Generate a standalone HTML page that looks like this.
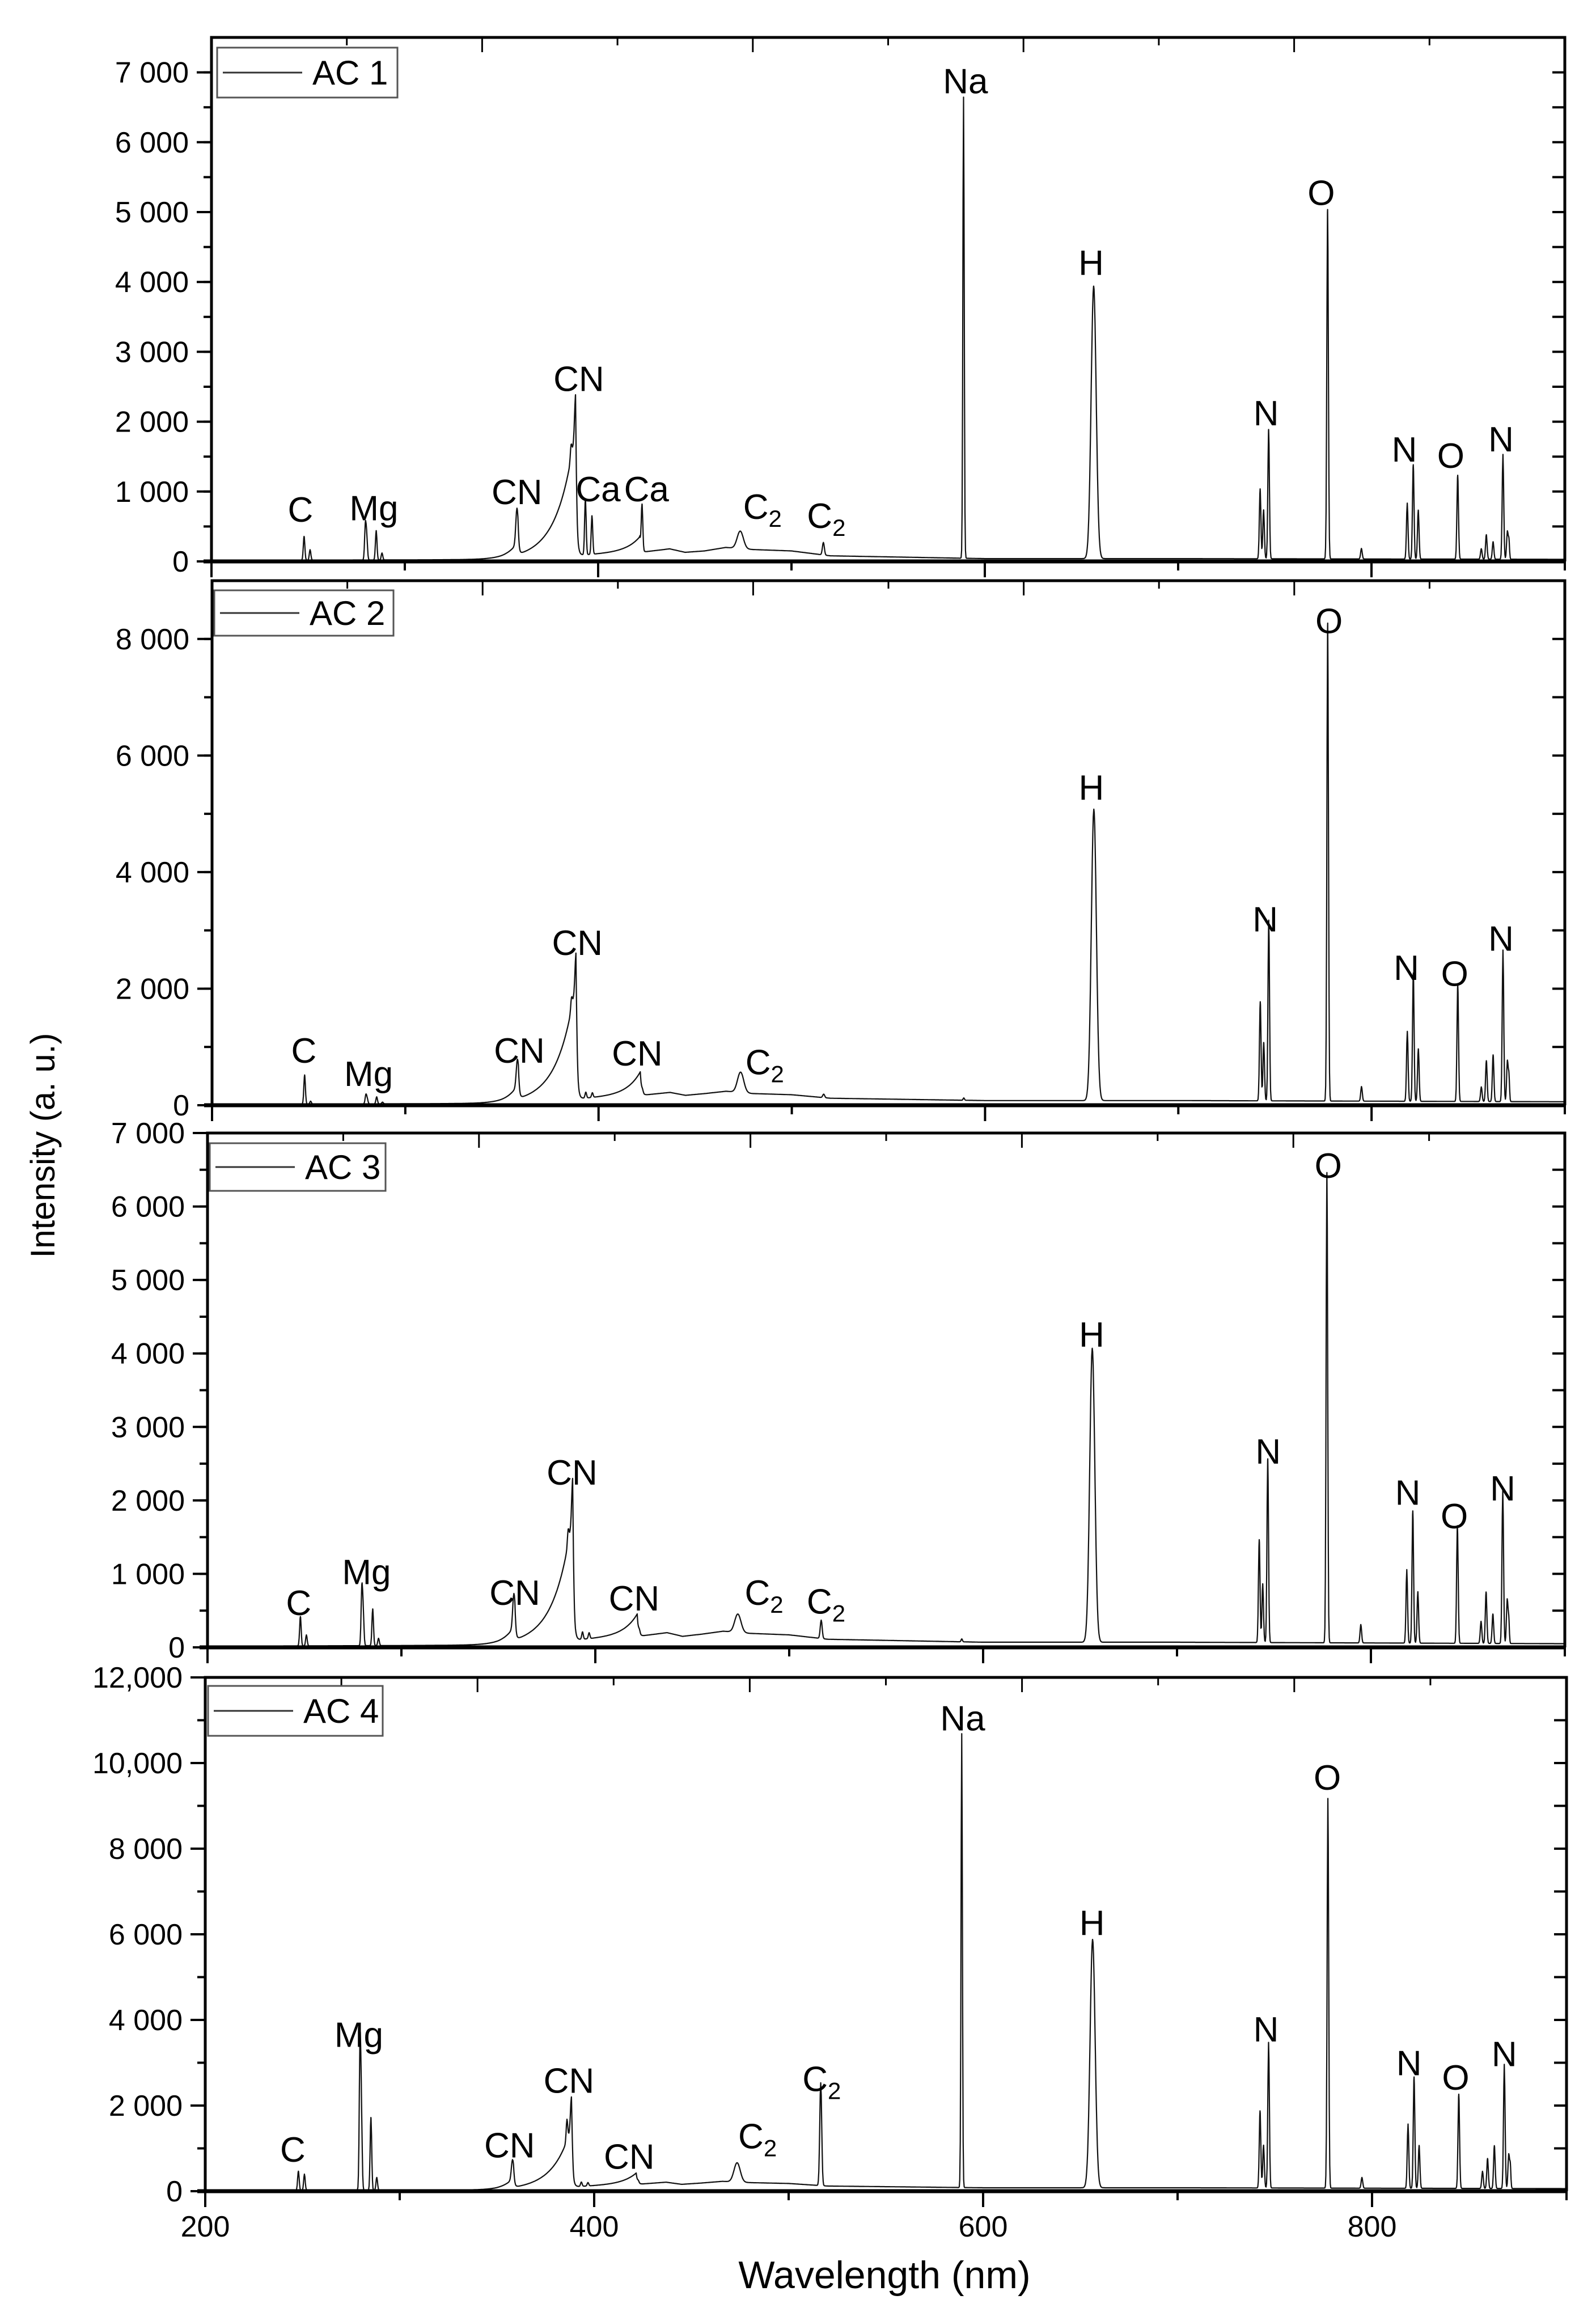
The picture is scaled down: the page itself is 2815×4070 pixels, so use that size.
<!DOCTYPE html>
<html><head><meta charset="utf-8"><style>
html,body{margin:0;padding:0;background:#fff;}
svg{display:block;}
text{font-family:"Liberation Sans",Arial,sans-serif;fill:#000;}
</style></head>
<body>
<svg id="chart" xmlns="http://www.w3.org/2000/svg" width="2815" height="4070" viewBox="0 0 2815 4070">
<rect x="0" y="0" width="2815" height="4070" fill="#fff"/>
<text x="0" y="0" font-size="60" text-anchor="middle" transform="translate(96,2020) rotate(-90)">Intensity (a. u.)</text>
<text x="1560" y="4035" font-size="68" text-anchor="middle">Wavelength (nm)</text>
</svg>
<script>
// ---- data ----
const panelNames = ["AC 1", "AC 2", "AC 3", "AC 4"];
const lineWl =    [247.9, 251.0, 279.6, 280.3, 285.2, 288.2, 358.0, 386.0, 388.3, 393.4, 396.8, 422.7, 473.5, 516.5, 589.0, 656.3, 742.4, 744.2, 746.8, 777.3, 794.8, 818.5, 821.6, 824.2, 844.6, 856.8, 859.4, 862.9, 868.0, 870.3, 871.1];
const lineWidth = [0.4, 0.4, 0.4, 0.4, 0.4, 0.4, 0.6, 0.4, 0.5, 0.4, 0.4, 0.4, 1.6, 0.5, 0.35, 1.3, 0.4, 0.4, 0.4, 0.4, 0.4, 0.4, 0.4, 0.4, 0.4, 0.4, 0.4, 0.4, 0.4, 0.4, 0.3];
const ac1Heights = [340, 150, 480, 300, 420, 100, 500, 200, 500, 800, 550, 650, 250, 180, 6600, 3900, 1000, 700, 1850, 5000, 150, 800, 1350, 700, 1200, 150, 350, 250, 1500, 400, 250];
const ac2Heights = [500, 50, 150, 80, 120, 30, 450, 200, 500, 100, 80, 50, 350, 60, 40, 5000, 1700, 1000, 3100, 8200, 250, 1200, 2200, 900, 2000, 250, 700, 800, 2600, 700, 400];
const ac3Heights = [400, 150, 750, 400, 500, 100, 450, 200, 500, 100, 80, 50, 250, 250, 40, 4000, 1400, 800, 2500, 6400, 250, 1000, 1800, 700, 1600, 300, 700, 400, 2100, 600, 300];
const ac4Heights = [450, 380, 3300, 1600, 1700, 300, 450, 500, 700, 100, 80, 50, 450, 2400, 10600, 5800, 1800, 1000, 3400, 9100, 250, 1500, 2600, 1000, 2200, 400, 700, 1000, 2900, 800, 500];
// molecular bands: head wavelength, rise length (nm)
const bandHeadWl = [358.5, 388.3, 421.6];
const bandRise =   [5, 9, 7];
const ac1Bands = [180, 1800, 220];
const ac2Bands = [250, 2000, 400];
const ac3Bands = [200, 1700, 300];
const ac4Bands = [220, 1400, 260];
// continuum baseline knots
const baseWl = [200, 350, 425, 437, 445, 455, 466, 480, 500, 520, 560, 600, 700, 900];
const ac1Base = [15, 25, 140, 180, 130, 150, 200, 170, 150, 80, 60, 40, 40, 30];
const ac2Base = [15, 30, 180, 220, 170, 200, 240, 200, 180, 120, 100, 80, 80, 60];
const ac3Base = [15, 30, 160, 200, 150, 180, 220, 190, 170, 110, 90, 70, 70, 50];
const ac4Base = [15, 25, 170, 210, 160, 190, 230, 200, 180, 120, 100, 80, 80, 60];
// axes
const yMax = [7500, 9000, 7000, 12000];
const ac1YTicks = [0, 1000, 2000, 3000, 4000, 5000, 6000, 7000];
const ac1YLabels = ["0", "1 000", "2 000", "3 000", "4 000", "5 000", "6 000", "7 000"];
const ac2YTicks = [0, 2000, 4000, 6000, 8000];
const ac2YLabels = ["0", "2 000", "4 000", "6 000", "8 000"];
const ac3YTicks = [0, 1000, 2000, 3000, 4000, 5000, 6000, 7000];
const ac3YLabels = ["0", "1 000", "2 000", "3 000", "4 000", "5 000", "6 000", "7 000"];
const ac4YTicks = [0, 2000, 4000, 6000, 8000, 10000, 12000];
const ac4YLabels = ["0", "2 000", "4 000", "6 000", "8 000", "10,000", "12,000"];
const yMinorStep = [500, 1000, 500, 1000];
const xTicks = [200, 400, 600, 800];
const xTickLabels = ["200", "400", "600", "800"];
const xMinor = [300, 500, 700, 900];
// peak annotations: text, wavelength, intensity of label baseline
const ac1LabText = ["C", "Mg", "CN", "CN", "Ca", "Ca", "C2", "C2", "Na", "H", "N", "O", "N", "O", "N"];
const ac1LabWl =   [246, 284, 358, 390, 400, 425, 485, 518, 590, 655, 745.5, 774, 817, 841, 867];
const ac1LabVal =  [570, 590, 820, 2440, 860, 860, 610, 480, 6700, 4100, 1950, 5100, 1430, 1340, 1575];
const ac2LabText = ["C", "Mg", "CN", "CN", "CN", "C2", "H", "N", "O", "N", "O", "N"];
const ac2LabWl =   [247.5, 281, 359, 389, 420, 486, 655, 745, 778, 818, 843, 867];
const ac2LabVal =  [730, 330, 730, 2580, 680, 530, 5240, 2980, 8100, 2150, 2050, 2650];
const ac3LabText = ["C", "Mg", "CN", "CN", "CN", "C2", "C2", "H", "N", "O", "N", "O", "N"];
const ac3LabWl =   [247, 282, 358.5, 388, 420, 487, 519, 656, 747, 778, 819, 843, 868];
const ac3LabVal =  [440, 860, 580, 2215, 500, 580, 460, 4090, 2500, 6390, 1940, 1620, 2000];
const ac4LabText = ["C", "Mg", "CN", "CN", "CN", "C2", "C2", "Na", "H", "N", "O", "N", "O", "N"];
const ac4LabWl =   [245, 279, 356.5, 387, 418, 484, 517, 589.5, 656, 745.5, 777, 819, 843, 868];
const ac4LabVal =  [690, 3370, 790, 2300, 520, 1000, 2340, 10760, 5980, 3500, 9380, 2710, 2370, 2920];

// ---- layout (pixels) ----
const layout = [
  {left: 373, right: 2760, top: 66, bottom: 990, leg: [383, 84, 318, 88]},
  {left: 374, right: 2760, top: 1024, bottom: 1949, leg: [378, 1041, 316, 80]},
  {left: 366, right: 2760, top: 1998, bottom: 2905, leg: [370, 2016, 310, 84]},
  {left: 362, right: 2763, top: 2958, bottom: 3864, leg: [367, 2973, 308, 88]}
];
const heightSets = [ac1Heights, ac2Heights, ac3Heights, ac4Heights];
const bandSets = [ac1Bands, ac2Bands, ac3Bands, ac4Bands];
const baseSets = [ac1Base, ac2Base, ac3Base, ac4Base];
const yTickSets = [ac1YTicks, ac2YTicks, ac3YTicks, ac4YTicks];
const yLabelSets = [ac1YLabels, ac2YLabels, ac3YLabels, ac4YLabels];
const labTextSets = [ac1LabText, ac2LabText, ac3LabText, ac4LabText];
const labWlSets = [ac1LabWl, ac2LabWl, ac3LabWl, ac4LabWl];
const labValSets = [ac1LabVal, ac2LabVal, ac3LabVal, ac4LabVal];

const NS = "http://www.w3.org/2000/svg";
const svg = document.getElementById("chart");
function mk(tag, attrs, parent) {
  const e = document.createElementNS(NS, tag);
  for (const k in attrs) e.setAttribute(k, attrs[k]);
  (parent || svg).appendChild(e);
  return e;
}

function intensity(p, x) {
  const hs = heightSets[p], bs = bandSets[p], base = baseSets[p];
  let v = 0;
  for (let i = 0; i < baseWl.length - 1; i++) {
    if (x >= baseWl[i] && x <= baseWl[i + 1]) {
      const t = (x - baseWl[i]) / (baseWl[i + 1] - baseWl[i]);
      v = base[i] + t * (base[i + 1] - base[i]);
      break;
    }
  }
  for (let i = 0; i < lineWl.length; i++) {
    const d = (x - lineWl[i]) / lineWidth[i];
    if (Math.abs(d) < 6) v += hs[i] * Math.exp(-0.5 * d * d);
  }
  for (let i = 0; i < bandHeadWl.length; i++) {
    const d = x - bandHeadWl[i];
    if (d <= 0) v += bs[i] * Math.exp(d / bandRise[i]);
    else v += bs[i] * Math.exp(-d / 0.6);
  }
  return v;
}

for (let p = 0; p < 4; p++) {
  const L = layout[p];
  const g = mk("g", {});
  
  
  const xs = wl => L.left + (wl - 200) / 700 * (L.right - L.left);
  const ys = v => L.bottom - v / yMax[p] * (L.bottom - L.top);

  const pts = [];
  for (let x = 200; x <= 900; x += 0.25) pts.push(x);
  for (const w of lineWl) pts.push(w);
  for (const w of bandHeadWl) pts.push(w);
  pts.sort((a, b) => a - b);
  let d = "";
  pts.forEach((x, i) => {
    d += (i ? "L" : "M") + xs(x).toFixed(1) + "," + ys(Math.min(intensity(p, x), yMax[p])).toFixed(1);
  });
  const path = mk("path", {d: d, fill: "none", stroke: "#111", "stroke-width": 2.2, "stroke-linejoin": "round"}, g);
  
  

  const frame = mk("path", {d: `M${L.left},${L.bottom}V${L.top}H${L.right}V${L.bottom}`, fill: "none", stroke: "#000", "stroke-width": 5}, g);
  
  
  const xaxis = mk("line", {x1: L.left - 14, x2: L.right, y1: L.bottom, y2: L.bottom, stroke: "#000", "stroke-width": 7}, g);
  
  

  for (let i = 1; i < 10; i++) {
    const tx = L.left + i * (L.right - L.left) / 10;
    const t = mk("line", {x1: tx, x2: tx, y1: L.top, y2: L.top + (i % 2 ? 14 : 26), stroke: "#000", "stroke-width": 3}, g);
    
    
  }
  xTicks.forEach((v, i) => {
    const t = mk("line", {x1: xs(v), x2: xs(v), y1: L.bottom, y2: L.bottom + 28, stroke: "#000", "stroke-width": 4}, g);
    
    
    if (p === 3) {
      const lab = mk("text", {x: xs(v), y: L.bottom + 80, "font-size": 52, "text-anchor": "middle"}, g);
      lab.textContent = xTickLabels[i];
      
      
    }
  });
  xMinor.forEach(v => {
    const t = mk("line", {x1: xs(v), x2: xs(v), y1: L.bottom, y2: L.bottom + 16, stroke: "#000", "stroke-width": 4}, g);
    
    
  });
  for (let v = yMinorStep[p]; v < yMax[p]; v += yMinorStep[p]) {
    const t = mk("line", {x1: L.left - 14, x2: L.left, y1: ys(v), y2: ys(v), stroke: "#000", "stroke-width": 4}, g);
    
    
    const r = mk("line", {x1: L.right - 22, x2: L.right, y1: ys(v), y2: ys(v), stroke: "#000", "stroke-width": 4}, g);
    
    
  }
  yTickSets[p].forEach((v, i) => {
    const t = mk("line", {x1: L.left - 26, x2: L.left, y1: ys(v), y2: ys(v), stroke: "#000", "stroke-width": 4}, g);
    
    
    const lab = mk("text", {x: L.left - 40, y: ys(v) + 18, "font-size": 52, "text-anchor": "end"}, g);
    lab.textContent = yLabelSets[p][i];
    
    
  });

  const [lx, ly, lw, lh] = L.leg;
  const leg = mk("g", {}, g);
  
  
  mk("rect", {x: lx, y: ly, width: lw, height: lh, fill: "#fff", stroke: "#555", "stroke-width": 3}, leg);
  mk("line", {x1: lx + 10, x2: lx + 150, y1: ly + lh / 2, y2: ly + lh / 2, stroke: "#333", "stroke-width": 3}, leg);
  const lt = mk("text", {x: lx + 168, y: ly + lh / 2 + 21, "font-size": 60}, leg);
  lt.textContent = panelNames[p];

  labTextSets[p].forEach((txt, i) => {
    const t = mk("text", {x: xs(labWlSets[p][i]), y: ys(labValSets[p][i]), "font-size": 62, "text-anchor": "middle"}, g);
    
    
    if (txt === "C2") {
      const a = mk("tspan", {}, t); a.textContent = "C";
      const b = mk("tspan", {"font-size": 42, dy: 14}, t); b.textContent = "2";
    } else t.textContent = txt;
  });
}
</script>
</body></html>
